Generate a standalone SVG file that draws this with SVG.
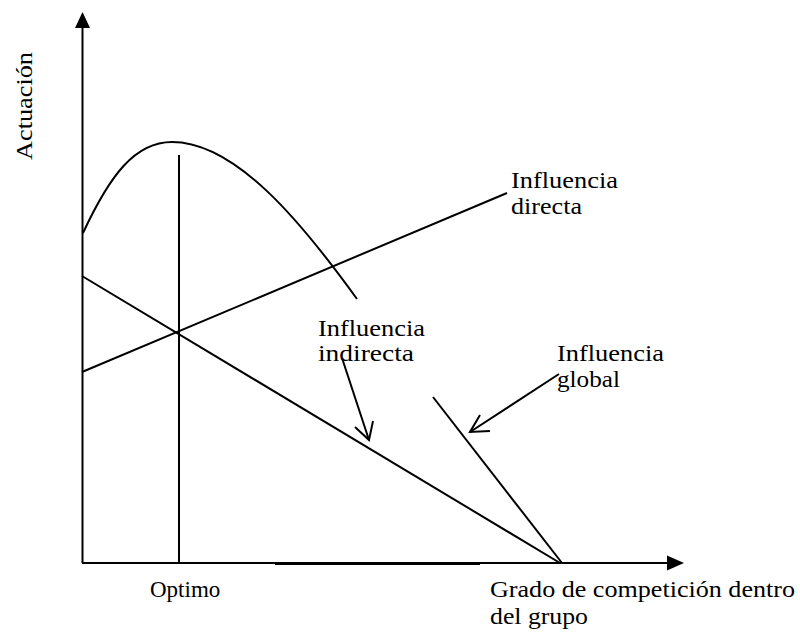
<svg xmlns="http://www.w3.org/2000/svg" width="800" height="635" viewBox="0 0 800 635">
<style>
.ln{fill:none;stroke:#000;stroke-width:2}
.t{font-family:"Liberation Serif","Times New Roman",serif;font-size:24px;fill:#000}
</style>
<rect width="800" height="635" fill="#fff"/>
<g id="axes">
<line class="ln" x1="82.5" y1="563" x2="82.5" y2="26"/>
<polygon points="82.5,12 75,28 90,28" fill="#000"/>
<line class="ln" x1="82" y1="563" x2="668" y2="563"/>
<line x1="275" y1="564" x2="480" y2="564" stroke="#000" stroke-width="2"/>
<polygon points="684,563 667,555.5 667,570.5" fill="#000"/>
</g>
<g id="connectors">
<path id="curve" class="ln" d="M83,233 C110,175 135,142 172,142 C235,142 300,220 357,299"/>
<line id="optimo-line" class="ln" x1="179" y1="155" x2="179" y2="563"/>
<line id="indirect-line" class="ln" x1="82" y1="276" x2="560" y2="563"/>
<line id="direct-line" class="ln" x1="82" y1="372" x2="507" y2="193"/>
<line id="global-line" class="ln" x1="433" y1="397" x2="562" y2="563"/>
<g id="arrow-indirecta">
<line class="ln" x1="342" y1="358" x2="369" y2="440"/>
<polyline class="ln" points="355,427 369,440 373,421"/>
</g>
<g id="arrow-global">
<line class="ln" x1="559" y1="374" x2="470" y2="432"/>
<polyline class="ln" points="480,415 470,432 490,431"/>
</g>
</g>
<g id="label-actuacion"><text class="t" transform="translate(32,160) rotate(-90)" textLength="108" lengthAdjust="spacingAndGlyphs">Actuación</text></g>
<g id="label-directa">
<text class="t" x="511" y="188" textLength="107" lengthAdjust="spacingAndGlyphs">Influencia</text>
<text class="t" x="511" y="214" textLength="71" lengthAdjust="spacingAndGlyphs">directa</text>
</g>
<g id="label-indirecta">
<text class="t" x="318" y="336" textLength="107" lengthAdjust="spacingAndGlyphs">Influencia</text>
<text class="t" x="318" y="361" textLength="96" lengthAdjust="spacingAndGlyphs">indirecta</text>
</g>
<g id="label-global">
<text class="t" x="557" y="361" textLength="107" lengthAdjust="spacingAndGlyphs">Influencia</text>
<text class="t" x="557" y="387" textLength="63" lengthAdjust="spacingAndGlyphs">global</text>
</g>
<g id="label-optimo"><text class="t" x="150" y="597" style="font-size:23px">Optimo</text></g>
<g id="label-x">
<text class="t" x="490" y="597" textLength="305" lengthAdjust="spacingAndGlyphs">Grado de competición dentro</text>
<text class="t" x="490" y="624" textLength="98" lengthAdjust="spacingAndGlyphs">del grupo</text>
</g>
</svg>
